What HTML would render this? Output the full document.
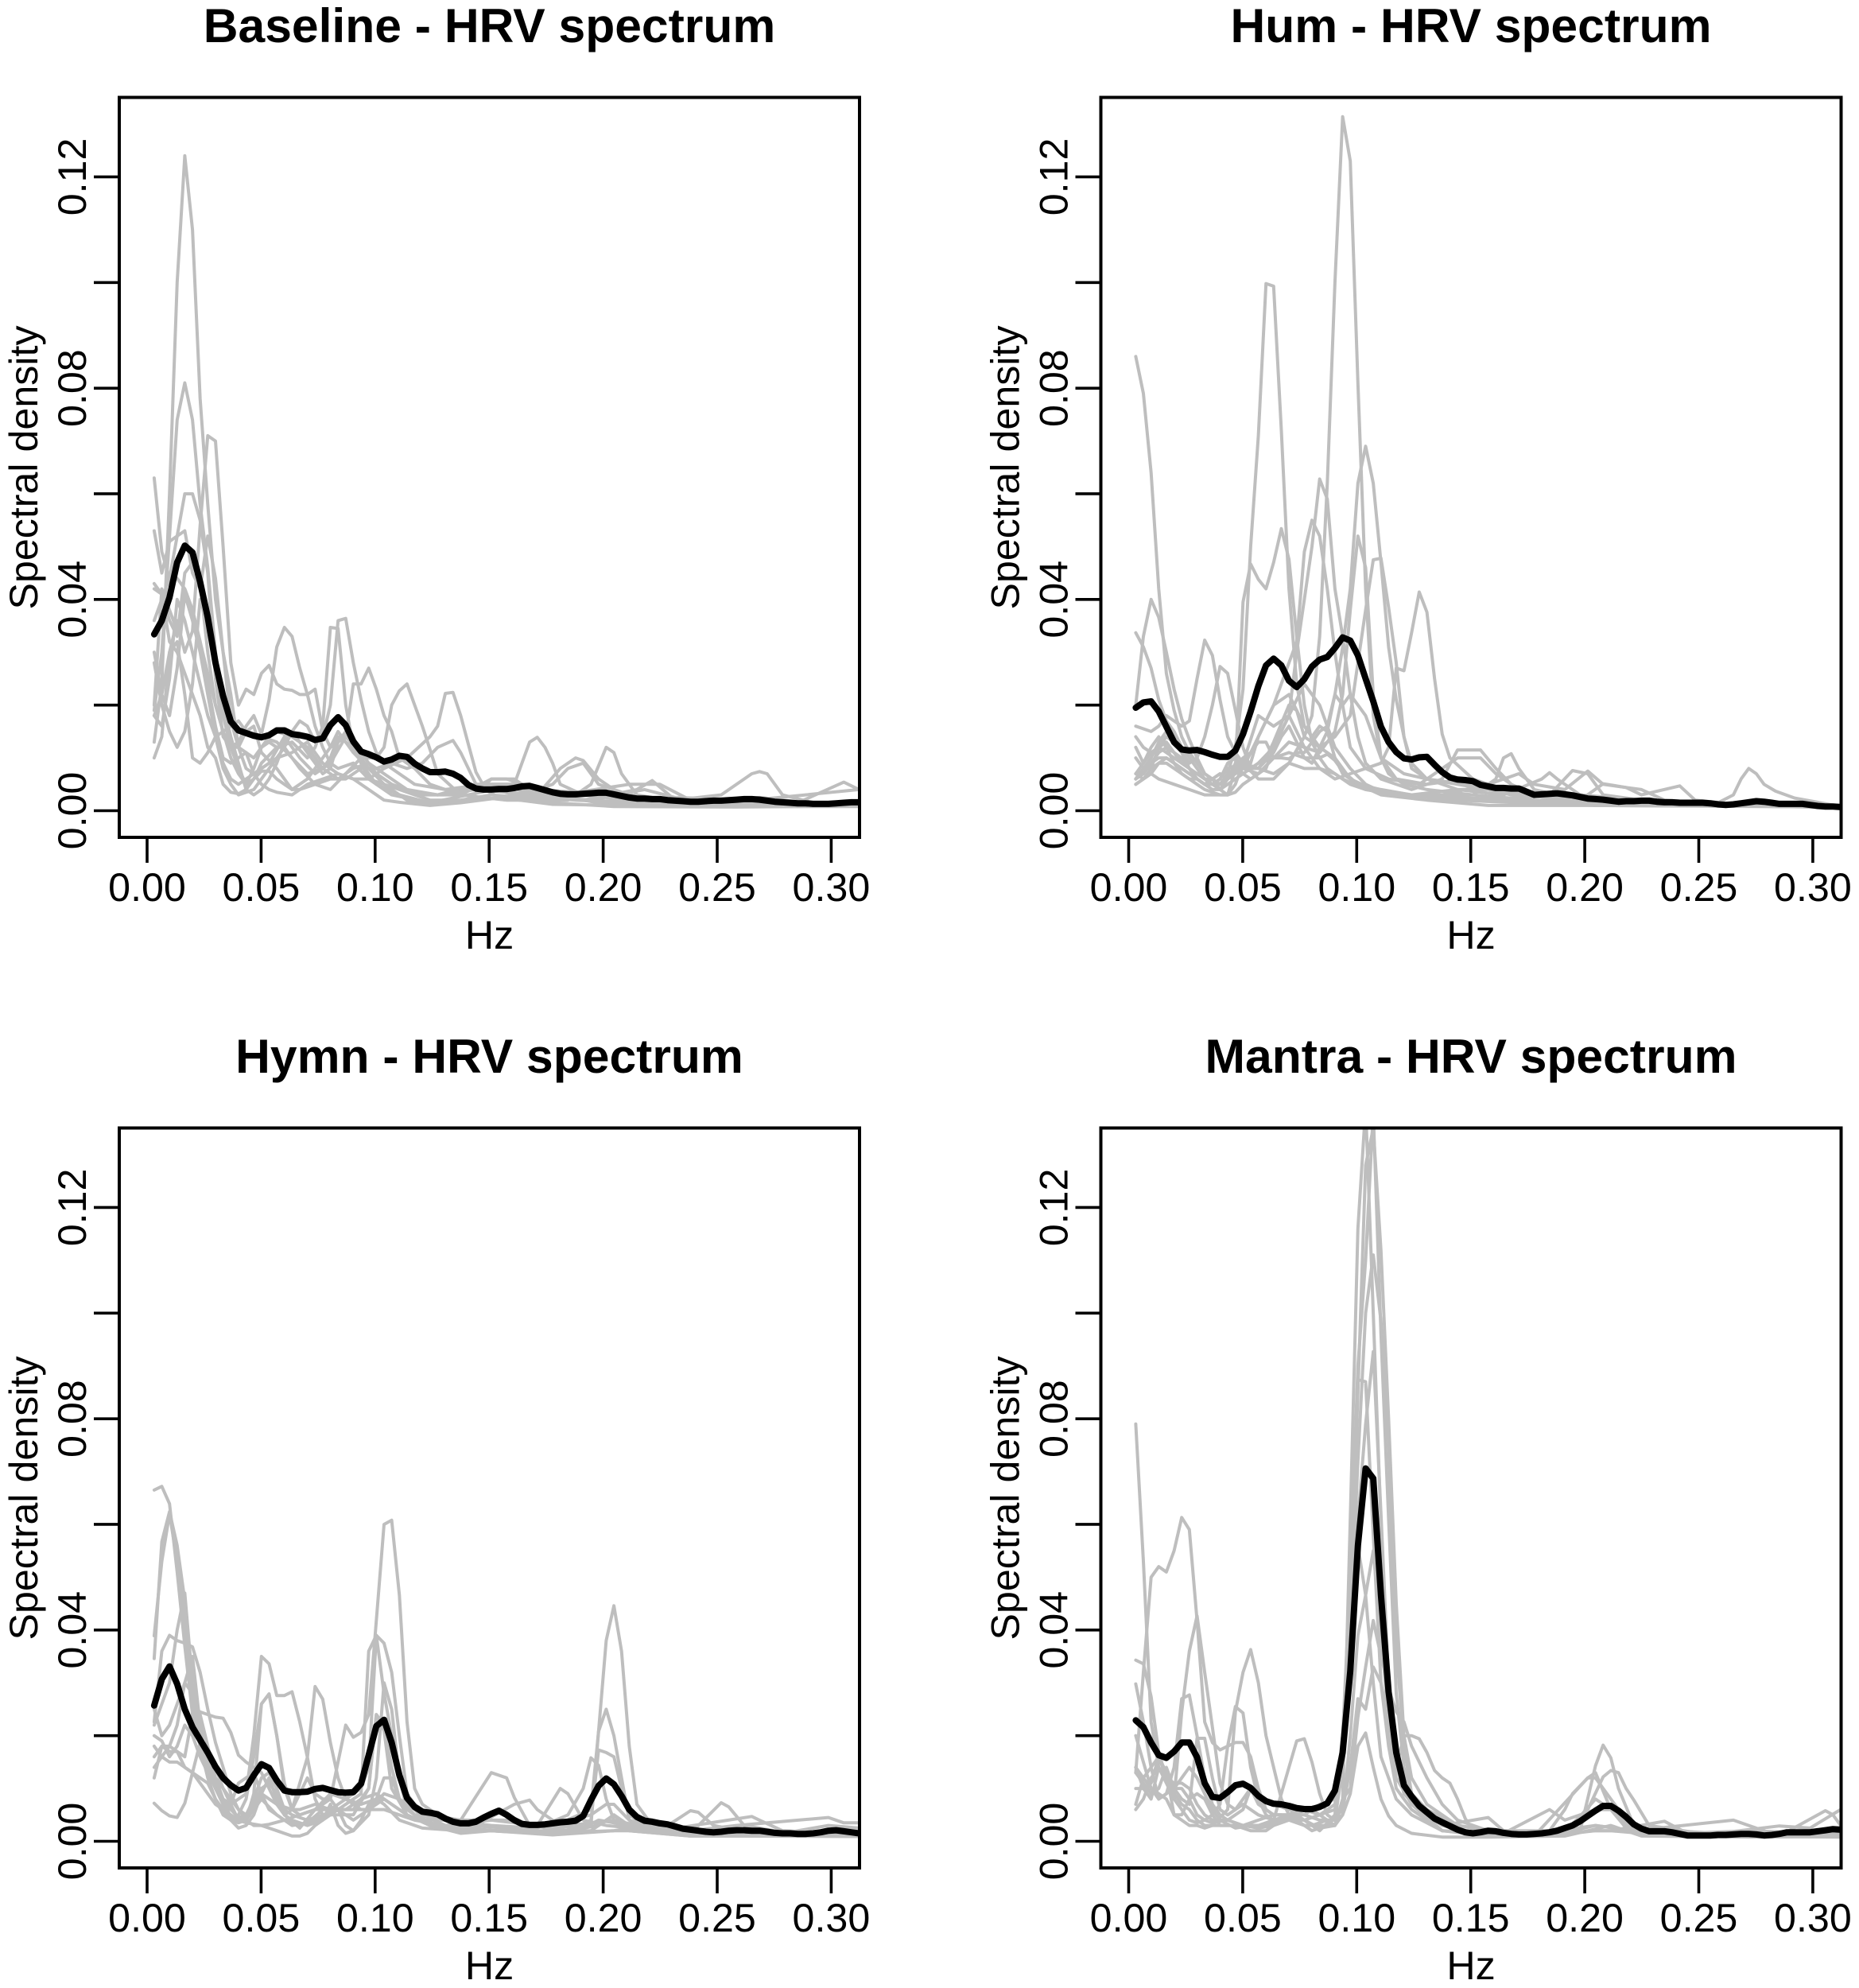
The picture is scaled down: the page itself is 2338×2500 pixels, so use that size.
<!DOCTYPE html>
<html lang="en">
<head>
<meta charset="utf-8">
<title>HRV spectrum panels</title>
<style>
html,body{margin:0;padding:0;background:#fff;}
svg{display:block;font-family:"Liberation Sans",Arial,sans-serif;fill:#000;}
.title{font-size:60.6px;font-weight:bold;text-anchor:middle;}
.lab{font-size:50.2px;text-anchor:middle;}
</style>
</head>
<body>
<svg id="chart" width="2338" height="2500" viewBox="0 0 2338 2500" xmlns="http://www.w3.org/2000/svg">
<defs>
<clipPath id="clip-0"><rect x="150" y="122.5" width="931" height="930.5"/></clipPath>
<clipPath id="clip-1"><rect x="1384.5" y="122.5" width="931" height="930.5"/></clipPath>
<clipPath id="clip-2"><rect x="150" y="1418.5" width="931" height="930.5"/></clipPath>
<clipPath id="clip-3"><rect x="1384.5" y="1418.5" width="931" height="930.5"/></clipPath>
</defs>
<rect x="0" y="0" width="2338" height="2500" fill="#fff"/>
<g id="panel-0">
<text class="title" x="615.5" y="53">Baseline - HRV spectrum</text>
<text class="lab" x="615.5" y="1193">Hz</text>
<text class="lab" transform="translate(47,588) rotate(-90)">Spectral density</text>
</g>
<g id="panel-1">
<text class="title" x="1850" y="53">Hum - HRV spectrum</text>
<text class="lab" x="1850" y="1193">Hz</text>
<text class="lab" transform="translate(1281.5,588) rotate(-90)">Spectral density</text>
</g>
<g id="panel-2">
<text class="title" x="615.5" y="1349">Hymn - HRV spectrum</text>
<text class="lab" x="615.5" y="2489">Hz</text>
<text class="lab" transform="translate(47,1884) rotate(-90)">Spectral density</text>
</g>
<g id="panel-3">
<text class="title" x="1850" y="1349">Mantra - HRV spectrum</text>
<text class="lab" x="1850" y="2489">Hz</text>
<text class="lab" transform="translate(1281.5,1884) rotate(-90)">Spectral density</text>
</g>
</svg>
<script>
// Spectra are in units of 0.001; sample index k maps to Hz as firstHz + k * stepHz.
const firstHz = 0.0031;
const stepHz = 0.00336;
const densityUnit = 0.001;
const xTicks = [0, 0.05, 0.1, 0.15, 0.2, 0.25, 0.3];
const xTickLabels = ["0.00", "0.05", "0.10", "0.15", "0.20", "0.25", "0.30"];
const yTicks = [0, 0.02, 0.04, 0.06, 0.08, 0.1, 0.12];
const yTickLabels = ["0.00", "", "0.04", "", "0.08", "", "0.12"];

// Group mean spectra, one value per sample index.
const baselineMean = [33.4,36,40.4,47,50.2,48.9,43.3,36.6,28,21.7,16.9,15.2,14.7,14.2,13.9,14.3,15.2,15.2,14.5,14.3,14,13.4,13.7,16.2,17.7,16.2,13.1,11.2,10.7,10.1,9.3,9.7,10.4,10.2,8.9,8,7.3,7.3,7.4,7,6.2,4.9,4.2,4,4,4.1,4.1,4.3,4.6,4.7,4.3,3.9,3.5,3.2,3.1,3.1,3.2,3.3,3.4,3.4,3.1,2.8,2.5,2.3,2.3,2.2,2.2,2,1.9,1.8,1.7,1.7,1.8,1.9,1.9,2,2.1,2.2,2.2,2.1,1.9,1.7,1.6,1.5,1.4,1.4,1.3,1.3,1.3,1.4,1.5,1.6,1.6];
const humMean = [19.5,20.5,20.7,18.8,15.9,13,11.6,11.4,11.5,11.1,10.6,10.2,10.2,11.4,14.5,18.8,23.6,27.5,28.8,27.5,24.6,23.4,24.9,27.3,28.6,29.1,30.8,32.8,32.2,29.4,25,20.7,15.9,13,11.1,9.9,9.7,10.1,10.2,8.7,7.3,6.3,5.9,5.8,5.6,4.9,4.6,4.3,4.3,4.2,4.2,3.6,3,3.1,3.2,3.3,3.1,2.9,2.6,2.3,2.2,2.1,1.9,1.7,1.8,1.8,1.9,1.9,1.7,1.6,1.6,1.5,1.5,1.5,1.5,1.4,1.2,1.1,1.2,1.4,1.6,1.8,1.7,1.5,1.3,1.3,1.3,1.3,1.1,0.9,0.8,0.8,0.7];
const hymnMean = [25.7,30.7,33.1,29.8,25,21.6,19.2,16.8,14.1,12,10.6,9.6,10.1,12.5,14.6,13.9,11.5,9.6,9.3,9.3,9.4,9.9,10.1,9.7,9.3,9.2,9.3,10.9,16.3,21.8,23,18.7,12.5,8.2,6.5,5.6,5.4,5.1,4.3,3.7,3.4,3.4,3.7,4.5,5.2,5.8,5,4,3.3,3.1,3.1,3.2,3.4,3.6,3.7,3.9,4.8,7.8,10.5,11.9,10.8,8.6,6,4.6,3.9,3.7,3.4,3.2,2.8,2.4,2.2,2,1.8,1.7,1.8,2,2.1,2.1,2,2,1.8,1.6,1.5,1.5,1.4,1.4,1.5,1.7,2,2.1,1.9,1.7,1.5];
const mantraMean = [22.9,21.6,18.7,16.3,15.8,17,18.7,18.7,15.9,11,8.4,8.2,9.3,10.6,10.9,10.1,8.6,7.6,7.1,7,6.7,6.3,6.1,6.1,6.5,7.2,9.6,16.8,32.2,56,70.6,68.7,46.6,28.3,16.8,10.6,8.5,6.7,5.5,4.3,3.6,2.9,2.2,1.7,1.5,1.7,2,1.9,1.6,1.4,1.3,1.3,1.4,1.5,1.7,2,2.5,3,3.8,4.8,5.8,6.7,6.7,5.8,4.6,3.2,2.4,1.9,1.9,1.9,1.7,1.4,1.1,1.1,1.1,1.1,1.2,1.2,1.3,1.4,1.4,1.3,1.1,1.2,1.4,1.7,1.7,1.7,1.7,1.9,2.1,2.3,2.2];

// Individual subject spectra as [sample index, density] vertices.
const baselineSubjects = [
[[0,13],[1,24],[2,60],[3,100],[4,124],[5,110],[6,78],[7,58],[8,40],[9,30],[10,22],[11,12],[12,8],[13,7],[15,9],[17,14],[19,10],[21,7],[23,9],[25,14],[27,11],[29,7],[32,4],[36,2],[40,2],[44,3],[48,2.5],[56,2],[66,1.5],[80,1],[92,1.2]],
[[0,19],[1,30],[2,52],[3,74],[4,81],[5,74],[6,58],[7,46],[8,30],[9,20],[10,14],[11,9],[12,4],[13,3],[14,4],[15,6],[16,9],[17,13],[18,15],[19,13],[20,11],[21,9],[22,7],[23,8],[24,13],[25,15],[26,13],[27,9],[29,5],[32,3],[36,1.5],[41,2],[44,6],[46,6],[50,4],[55,3.5],[62,2],[72,1.5],[79,2.5],[85,1.5],[92,1.6]],
[[0,18],[1,22],[2,30],[3,36],[4,30],[5,34],[6,54],[7,71],[8,70],[9,50],[10,28],[11,20],[12,23],[13,22],[14,26],[15,27.5],[16,24],[17,23],[18,22.8],[19,22],[20,22],[21,23],[22,15],[23,12],[24,15],[26,11],[28,8],[31,5],[35,3],[40,3],[44,6],[47,6],[50,3],[56,2],[63,4],[65,5.7],[68,2],[78,2],[85,3],[92,4]],
[[0,36],[1,40],[2,44],[3,52],[4,60],[5,60],[6,55],[7,45],[8,25],[9,14],[10,12],[11,13],[12,16],[13,18],[14,14.5],[15,21],[16,31],[17,34.7],[18,33],[19,27],[20,22],[21,16],[22,12],[23,9],[24,8],[26,9],[28,6],[32,4],[37,3],[42,4],[46,5],[49,3],[57,2],[64,4],[68,2.5],[78,2],[84,1.5],[90,5.4],[92,4]],
[[0,63],[1,49],[2,44],[3,44],[4,42],[5,38],[6,32],[7,26],[8,20],[9,15],[10,10],[11,7],[12,5],[13,6],[14,9],[16,12],[18,13],[20,10],[21,12],[22,16],[23,34.7],[24,34.5],[25,20],[26,12],[28,6],[31,3],[36,1.5],[42,2],[48,3],[52,5],[54,8],[56,9],[58,5],[62,3],[68,2],[74,3],[78,7],[79,7.4],[80,7],[82,3],[86,1.5],[92,1.5]],
[[0,53],[1,45],[2,51],[3,52],[4,53],[5,45],[6,42],[7,52],[8,44],[9,30],[10,17],[11,12],[12,11],[13,10],[14,12],[15,13],[16,12],[17,12],[18,15],[19,17],[20,16],[21,13],[22,14],[23,20],[24,36],[25,36.4],[26,28],[27,21],[28,15],[29,11],[30,9],[34,5],[38,4],[43,5],[47,5],[48,9],[49,13],[50,13.9],[51,12],[52,9],[53,5],[56,3],[62,2],[72,1.2],[92,1.2]],
[[0,43],[1,41],[2,36],[3,33],[4,45],[5,47],[6,43],[7,30],[8,20],[9,15],[10,12],[11,12],[12,15],[13,16],[14,11],[16,8],[18,4],[20,6],[22,10],[23,12],[25,14],[26,24],[27,24],[28,27],[29,23],[30,18],[31,15],[32,10],[34,8],[36,5],[38,4],[42,4],[50,3],[53,8],[55,10],[56,9.5],[58,6],[60,4],[64,2],[74,1],[92,1.4]],
[[0,30],[1,22],[2,18],[3,27],[4,41],[5,36],[6,30],[7,22],[8,14],[9,8],[10,5],[11,3],[12,3.5],[13,4],[14,6],[15,8],[17,12],[19,8],[21,5],[23,4],[25,7],[27,10],[29,10],[30,12],[31,20],[32,22.7],[33,24],[34,20],[35,16],[36,11.6],[37,7],[40,3],[46,2],[54,2],[57,5],[59,12],[60,11],[61,7],[63,3],[70,1.2],[92,1]],
[[0,28],[1,20],[2,15],[3,12],[4,15],[5,24],[6,40],[7,35],[8,30],[9,18],[10,12],[11,8],[12,5],[13,8],[14,12],[15,14],[16,15],[18,14],[20,12],[22,8],[24,6],[26,8],[28,9],[30,7],[33,4],[37,3],[42,5],[47,5],[53,3],[62,5],[66,5],[70,2],[80,1.3],[92,1.3]],
[[0,10],[1,14],[2,30],[3,32],[4,22],[5,10],[6,9],[7,11],[8,14],[9,15],[10,16],[11,17],[12,15],[13,14],[14,14],[16,13],[18,10],[20,7],[22,8],[23,10],[24,14],[26,12],[28,8],[30,5],[33,2],[36,1.5],[41,3],[46,4.5],[52,3],[58,1.5],[70,1],[92,1.1]],
[[0,18],[1,16],[2,25],[3,40],[4,36],[5,30],[6,24],[7,18],[8,14],[9,9],[10,6],[11,5],[12,6],[14,8],[16,10],[18,11],[20,13],[22,9],[24,7],[26,6],[28,6],[30,8],[33,10],[36,14],[37,16],[38,22.2],[39,22.4],[40,18],[41,12.6],[42,7.3],[43,4.7],[47,3],[55,2],[66,1.2],[92,0.9]],
[[0,42],[1,41],[2,32],[3,30],[4,26],[5,22],[6,18],[7,12],[8,10],[9,5],[10,3.5],[11,3.2],[12,4],[13,6],[14,7.5],[15,7.5],[16,6],[17,5],[18,4],[19,4],[21,5],[23,6],[25,6],[27,8],[29,8],[31,9],[33,8],[35,9],[37,12],[39,13.3],[40,11],[42,5],[45,2.5],[52,1.2],[70,0.8],[92,0.8]],
[[0,20],[1,42],[2,38],[3,34],[4,42],[5,38],[6,32],[7,24],[8,16],[9,10],[10,9],[11,10],[12,11],[13,7],[14,5],[15,4],[16,3.5],[18,3],[20,5],[22,6],[24,7],[26,6],[28,4],[30,2],[32,1.6],[36,1],[40,1.5],[48,3],[52,1.5],[60,0.8],[76,0.7],[92,0.9]]
];
const humSubjects = [
[[0,86],[1,79],[2,64],[3,42],[4,26],[5,19],[6,14],[7,11],[8,9],[9,7],[10,6],[11,5],[12,6],[13,9],[14,7],[15,6],[16,7],[17,8],[18,12],[20,18],[22,24],[24,20],[26,12],[28,8],[30,5],[33,3],[38,3],[44,3],[52,2],[62,1.5],[75,1],[92,0.6]],
[[0,10],[1,8],[2,9],[3,11],[4,12],[5,11],[6,9],[7,8],[8,7],[9,6],[10,5],[11,5],[12,7],[13,12],[14,23],[15,50],[16,71],[17,99.8],[18,99.3],[19,72],[20,42],[21,24],[22,16],[23,14],[24,16],[25,15],[26,10],[27,7],[29,5],[32,4],[36,3],[42,2.5],[50,2],[60,1.5],[92,0.6]],
[[0,7],[1,9],[2,12],[3,14],[4,12],[5,9],[6,7],[7,6],[8,6],[9,5],[10,5],[11,4],[12,6],[14,9],[16,8],[18,7],[20,9],[22,14],[23,18],[24,33],[25,62],[26,100],[27,131.4],[28,123],[29,81],[30,42],[31,18],[32,10],[33,7],[35,5],[38,4],[44,3],[47,6],[48,10],[49,10.8],[50,8],[52,4],[58,2],[70,1],[92,0.7]],
[[0,6],[1,8],[2,10],[3,13],[4,15],[5,13],[6,11],[7,8],[8,6],[9,5],[10,5],[11,6],[12,8],[14,9],[16,8],[18,11],[19,14],[20,16],[21,13],[22,10],[23,9],[24,12],[25,15],[26,22],[27,31],[28,42],[29,62],[30,69],[31,62],[32,47],[33,31],[34,21],[35,14],[36,9],[38,6],[42,4],[48,3],[53,6],[54,7.2],[55,6],[58,3],[70,1.5],[92,0.7]],
[[0,6],[1,7],[2,9],[3,10],[4,10],[5,9],[6,8],[7,7],[8,6],[9,5],[10,4],[11,4],[12,5],[14,7],[16,9],[18,12],[20,18],[21,30],[22,40],[23,50],[24,62.8],[25,59],[26,42],[27,33],[28,22],[29,14],[30,9],[32,6],[36,4],[40,6],[42,11.5],[45,11.5],[47,8],[49,5],[52,3],[60,2],[72,1.2],[92,0.7]],
[[0,12],[1,9],[2,11],[3,12],[4,13],[5,11],[6,10],[7,8],[8,7],[9,6],[10,6],[11,7],[12,6],[14,8],[15,9],[16,14],[18,20],[20,28],[21,32],[22,49],[23,55],[24,52],[25,42],[26,30],[27,20],[28,12],[30,8],[33,6],[37,5],[42,10],[45,10],[47,7],[50,4],[54,3],[57,7.6],[59,7],[61,3],[70,1.2],[92,0.8]],
[[0,14],[1,12],[2,11],[3,12],[4,11],[5,10],[6,9],[7,8],[8,6],[9,5],[10,5],[11,6],[12,9],[13,10],[14,8],[16,7],[18,10],[20,13],[22,12],[24,11],[26,15],[27,22],[28,38],[29,52],[30,46],[31,22],[32,10],[34,6],[38,5],[43,6],[46,5],[50,7],[52,5],[56,4],[59,7.5],[61,5],[64,4.4],[66,4],[69,2],[80,1],[92,0.9]],
[[0,7],[1,6],[2,7],[3,9],[4,10],[5,9],[6,8],[7,7],[8,6],[9,5],[10,6],[11,7],[12,6],[14,8],[16,14],[18,20],[20,22],[22,16],[24,12],[26,14],[28,18],[29,28],[30,38],[31,47.5],[32,47.8],[33,38.5],[34,28],[35,14],[36,8],[38,6],[42,5],[46,4],[50,3],[58,2],[61,5.1],[64,4.4],[66,3],[71,4.7],[73,2],[80,1],[92,0.6]],
[[0,33.7],[1,31],[2,27],[3,21],[4,17],[5,15],[6,12],[7,10],[8,8],[9,6],[10,5],[11,5],[12,6],[13,8],[14,10],[15,11],[16,13],[17,13],[18,10],[19,10],[20,9.8],[21,11],[22,11],[24,15],[25,16],[26,22],[27,20],[28,22],[30,18],[32,10],[35,7],[38,6],[43,5],[48,4],[55,2],[62,2],[70,1.5],[92,1]],
[[0,20],[1,33],[2,40],[3,36.6],[4,30],[5,23],[6,17.4],[7,13.5],[8,10],[9,7],[10,6],[11,4],[12,3],[13,5],[14,9],[16,18],[18,16],[20,18],[22,12],[24,8],[26,7],[28,5],[30,4],[34,3],[40,3],[46,5],[52,2],[62,1.2],[92,0.8]],
[[0,16],[1,15.5],[2,15],[3,16],[4,18],[5,17],[6,16],[7,17],[8,25],[9,32.3],[10,29.4],[11,21],[12,14],[13,11],[14,9],[16,6],[18,6],[20,9],[22,8],[24,8],[26,6],[28,7],[30,8],[32,9],[33,12],[34,27],[35,26.5],[36,33.7],[37,41.4],[38,37.6],[39,25],[40,14.5],[41,10],[44,6],[48,4],[56,2.5],[66,1.5],[92,1]],
[[0,6],[1,8],[2,8],[3,12],[4,14],[5,13],[6,11],[7,9],[8,10],[9,14],[10,20],[11,27.3],[12,26],[13,19],[14,12],[15,8],[16,8],[17,10],[18,13],[20,20],[21,19],[22,14],[24,12],[26,10],[28,6],[31,4],[36,3],[42,4],[46,4],[52,2],[60,1],[92,0.7]],
[[0,5],[1,6],[2,8],[3,9],[4,9],[5,8],[6,7],[7,6],[8,5],[9,4],[10,3.5],[11,3],[12,3],[13,8],[14,39.5],[15,46.7],[16,43.8],[17,42],[18,47],[19,53.4],[20,47.6],[21,33],[22,20],[23,13],[24,10],[25,8],[27,6],[30,4],[35,3],[42,2],[50,1.5],[60,1],[92,0.8]],
[[0,5],[1,6],[2,7],[3,6],[5,5],[7,4],[9,3],[11,3],[12,3],[13,3.5],[14,5],[16,7],[18,10],[20,11],[22,10],[24,10],[25,10.7],[26,9.5],[27,7.5],[29,5],[32,3],[38,2],[46,1],[60,1],[70,1],[76,1.5],[78,3],[79,6],[80,8],[81,7],[82,5],[83.5,3.7],[86,2.4],[92,0.8]]
];
const hymnSubjects = [
[[0,66.5],[1,67.2],[2,63.9],[3,51],[4,37],[5,24],[6,18],[7,14],[8,12],[9,10],[10,8],[11,6],[12,5],[13,8],[14,12],[15,13],[16,10],[17,6],[18,5],[20,4],[22,5],[24,6],[26,6],[28,10],[29,24],[30,22],[31,14],[32,8],[33,6],[35,4],[38,4],[42,4],[46,4],[50,3],[56,2.5],[58,4],[60,3.5],[64,2],[75,1],[92,1]],
[[0,34.6],[1,56.7],[2,62.4],[3,56],[4,45.6],[5,29],[6,20],[7,15],[8,11],[9,8],[10,6],[11,4.5],[12,5],[13,7],[14,10],[15,11],[16,9],[17,5],[18,4],[20,3],[22,4],[24,6],[26,8],[27,9],[28,36],[29,39],[30,28],[31,20],[32,12],[33,7],[35,5],[38,3],[44,2],[50,1.5],[60,2],[62,2],[70,1],[92,1]],
[[0,38.9],[1,53],[2,62],[3,53],[4,41.8],[5,27],[6,19],[7,14],[8,10],[9,7],[10,4],[11,3.5],[12,4],[13,9],[14,26],[15,27.9],[16,20],[17,11],[18,6],[19,5],[21,6],[23,6],[25,8],[27,10],[28,14],[29,39],[30,37.5],[31,32],[32,20],[33,9],[34,7],[36,5],[40,4],[44,13],[46,12],[47,8.3],[49,3],[54,2],[57,2],[60,5],[62,3],[70,1],[92,1]],
[[0,22.6],[1,36],[2,39],[3,38],[4,37.5],[5,36.8],[6,32],[7,25],[8,18.7],[9,14],[10,9],[11,6],[12,4],[13,3],[14,3],[15,3.2],[17,4],[19,5],[21,6],[23,9],[25,8],[27,7],[29,8],[30,12],[31,12],[32,8],[34,5],[38,4],[44,3],[50,2.5],[54,5],[56,10],[57,15.8],[58,14.4],[59,8],[60,4],[62,2],[70,1],[92,1.2]],
[[0,7.2],[1,5.8],[2,4.8],[3,4.5],[4,7.2],[5,13],[6,18.7],[7,17],[8,14],[9,10],[10,7],[11,4],[12,3.5],[14,3],[16,2],[18,1],[19,1],[20,1.5],[21,3],[22,4],[23,7],[24,3],[25,1.5],[26,2],[27,4],[28,7],[29,8],[30,7],[32,4],[35,2.5],[40,2],[46,2],[52,1.5],[58,3],[60,5],[62,2],[72,1],[92,1]],
[[0,12],[1,18],[2,18],[3,17],[4,16],[5,24],[6,24.5],[7,24],[8,23.5],[9,23.3],[10,20.6],[11,16.3],[12,15],[13,14],[14,13],[15,10],[16,7],[17,5],[18,6],[19,6],[21,7],[23,6],[25,6],[27,8],[29,9],[31,7],[33,5],[36,3],[40,2],[46,2],[54,4],[57,5],[59,7],[60,7],[62,4],[66,2],[70,5.8],[71,5.5],[73,3],[78,1.5],[92,1.2]],
[[0,20],[1,19],[2,16],[3,18],[4,22],[5,20],[6,16],[7,13],[8,10],[9,7],[10,7],[11,8],[12,9],[13,20],[14,35],[15,33.6],[16,27.6],[17,27.6],[18,28.3],[19,22.6],[20,15.9],[21,8],[22,5],[23,5],[24,6],[26,6],[28,6],[30,8],[33,5],[36,3],[42,3],[47,7],[49,7.8],[50,6],[53,3],[58,3.5],[60,4],[63,3],[70,1.5],[74,7.3],[75,6.5],[77,3],[84,1.2],[92,1]],
[[0,18],[1,16],[2,15],[3,15],[4,14],[5,13],[6,12],[7,11],[8,8],[9,5],[10,4],[11,5],[12,8],[13,16],[14,26],[15,27.9],[16,20],[17,10],[18,6],[20,15.9],[21,29.3],[22,26.9],[23,18.7],[24,12],[25,8],[27,6],[30,6],[34,4],[38,3],[44,4],[50,3],[53,10],[54,9],[56,4],[59,3],[66,2],[78,4.7],[79,4],[82,2],[92,1.4]],
[[0,16],[1,18],[2,17],[3,17],[4,14],[5,13],[6,11],[7,9],[8,7],[9,6],[10,5],[11,4],[13,6],[14,9],[16,7],[18,6],[20,12],[21,9],[22,8],[23,8],[25,22],[26,19.7],[27,20.6],[28,24],[29,41.8],[30,60],[31,60.8],[32,46.6],[33,22.6],[34,10],[35,7],[37,5],[41,3],[46,2.5],[52,1.5],[57,3],[58,20.8],[59,38],[60,44.6],[61,36],[62,18],[63,7],[65,3],[72,1.2],[92,1]],
[[0,25],[1,20],[2,22],[3,26],[4,30],[5,35],[6,22],[7,14],[8,10],[9,8],[10,7],[11,11],[12,12],[13,13],[14,9],[15,6],[17,4],[19,3],[21,4],[23,5],[26,5],[28,10],[29,24],[30,21],[31,10],[33,5],[36,3],[40,2.5],[45,2],[54,2],[57,4],[58,17.3],[59,16.8],[60,16],[61,10],[62,5],[64,3],[70,2],[76,3],[88,4.5],[90,3.5],[92,3.5]],
[[0,14],[1,16],[2,18],[3,22],[4,30],[5,28],[6,24],[7,18],[8,12],[9,8],[10,4.5],[11,4],[12,4],[13,6],[14,8],[16,5],[18,3],[20,3.5],[22,6],[24,6],[26,4],[28,6],[30,9],[32,8],[34,6],[36,3],[40,1.5],[44,2],[50,1.5],[57,6],[58,20.8],[59,25],[60,20],[61,12],[62,4],[64,2],[70,1],[80,1],[88,3],[92,2.5]],
[[0,22],[1,26],[2,30],[3,40],[4,47],[5,30],[6,18],[7,12],[8,8],[9,6],[10,4],[11,2.5],[12,3],[13,5],[14,9],[15,12],[16,8],[17,5],[19,2.5],[21,6],[23,8],[24,6],[25,3],[26,2],[28,5],[29,12],[30,30],[31,25],[32,12],[33,6],[35,4],[38,2.5],[44,2],[52,1.2],[60,2],[62,2.5],[72,1],[92,0.9]]
];
const mantraSubjects = [
[[0,79],[1,53],[2,22.6],[3,14],[4,12],[5,9],[6,7],[7,6],[8,4],[9,3],[10,3],[12,3],[14,3],[16,4],[18,5],[20,5],[22,4],[24,2.5],[26,3],[27,8],[28,61],[29,116],[30,139],[31,100],[32,60],[33,30],[34,15],[35,9],[37,6],[40,3],[44,1.5],[54,1],[60,3],[70,1],[92,0.8]],
[[0,13],[1,32],[2,50],[3,52],[4,51],[5,55],[6,61.3],[7,59],[8,41.8],[9,22.6],[10,18.7],[11,17.3],[12,18],[13,25.5],[14,24.3],[15,14],[16,8],[17,5],[18,4],[20,5],[22,4],[24,2],[26,5],[27,20],[28,50],[29,90],[30,110],[31,138],[32,96],[33,61],[34,28],[35,14],[36,9],[38,6],[42,3],[50,1],[60,2],[62,2],[70,1],[92,1]],
[[0,7],[1,12],[2,14],[3,16],[4,12],[5,8],[6,24.5],[7,36],[8,42.7],[9,32],[10,21.6],[11,11],[12,7],[13,6],[14,8],[15,10],[16,8],[18,7],[20,6],[22,5],[24,4],[26,4],[27,15],[28,40],[29,87.4],[30,87],[31,58],[32,30],[33,18],[34,10],[36,6],[40,2],[46,1],[54,1.5],[58,2],[60,14.3],[61,18.2],[62,15.8],[63,10],[65,3],[72,1],[92,1]],
[[0,14],[1,12],[2,10],[3,9],[4,8],[5,5],[6,4],[7,3],[8,3],[9,2.5],[10,3],[12,6],[13,24.5],[14,32],[15,36.3],[16,30],[17,20],[18,14],[19,8],[20,5],[22,6],[24,5],[26,6],[27,18],[28,45],[29,85],[30,128],[31,135],[32,111.8],[33,80],[34,45],[35,20],[36,12],[38,7],[42,3],[47,2],[52,1],[59,12],[60,12],[62,8],[65,2],[80,1],[92,1.2]],
[[0,34.3],[1,33.6],[2,27.4],[3,16.8],[4,12],[5,11],[6,11],[7,10],[8,7],[9,5],[10,4],[12,4],[14,3],[16,3],[18,4],[20,4],[22,4],[24,5],[26,7],[27,20],[28,40],[29,72],[30,100],[31,111],[32,98.5],[33,75],[34,37],[35,18],[36,9],[38,5],[42,2],[48,1],[56,2],[59,6],[61,12.2],[62,13.4],[63,13],[64,10],[65,7.8],[67,3],[76,1],[92,1.2]],
[[0,29.8],[1,22.6],[2,14],[3,8],[4,9],[5,10],[6,12],[7,14],[8,12],[9,9],[10,6],[11,4],[13,2.5],[15,3],[17,3],[19,4],[21,5],[23,3],[25,4],[26,4],[27,14],[28,35],[29,61],[30,79],[31,92.7],[32,62],[33,30],[34,15],[36,7],[40,2],[48,1],[56,1.5],[60,8],[62,6],[65,2],[78,4],[80,3],[84,1],[90,5.8],[91,5],[92,3]],
[[0,20],[1,15],[2,10],[3,8],[4,9],[5,14],[6,27],[7,27.7],[8,20],[9,12],[10,7],[11,5],[12,4],[14,6],[15,10],[16,7],[18,5],[20,5],[22,5],[24,7],[26,8],[27,14],[28,32],[29,56],[30,46.6],[31,55],[32,40],[33,22],[34,12],[36,7],[40,3],[46,4.5],[48,2],[54,2],[56,6],[57,9],[59,12],[60,13],[62,6],[66,2],[74,1],[92,2]],
[[0,13],[1,11],[2,9],[3,10],[4,14],[5,10],[6,8],[7,7],[8,19.5],[9,19.5],[10,12],[11,6],[12,5],[14,7],[16,5],[18,4],[20,14],[21,19],[22,19.4],[23,15],[24,9],[25,5],[26,4],[27,5],[28,20],[29,39],[30,46.6],[31,30],[32,16],[34,8],[36,5],[40,2],[48,1.5],[54,6],[56,4],[60,6],[62,6],[64,2.5],[76,1.5],[84,2.9],[88,2.5],[92,6]],
[[0,6],[1,8],[2,12],[3,14],[4,11],[5,8],[6,6],[7,4],[8,3.5],[9,4],[10,5],[11,7],[12,18],[13,18.7],[14,18.7],[15,16],[16,10],[17,6],[18,5],[19,5],[21,4],[23,2],[25,3],[27,6],[28,14],[29,27],[30,25],[31,33],[32,30],[33,22],[34,14],[35,20],[36,20],[37,19.4],[38,16.8],[39,13.4],[40,12],[41,11],[42,8],[43,4.3],[44,2],[50,1],[60,3],[70,1],[92,1]],
[[0,10],[1,10],[2,8],[3,14],[4,12],[5,10],[6,10],[7,8],[8,5],[9,4],[10,3.5],[12,4],[14,3],[16,2.5],[18,3],[20,4],[22,3],[24,3],[26,3],[27,8],[28,10],[29,23.5],[30,33],[31,41.8],[32,35],[33,29],[34,24.5],[35,22.6],[36,18],[38,12],[40,7],[42,4],[46,2],[54,1],[60,2],[62,2],[69,3.8],[72,1.5],[80,2],[92,1.4]],
[[0,14],[1,10],[2,11],[3,16],[4,13],[5,5],[6,5],[7,8],[8,9],[9,8],[10,5],[11,3],[13,3],[15,2],[17,2],[19,4],[21,6],[23,6],[25,4],[26,3],[27,5],[28,9],[29,18],[30,20.5],[31,14],[32,8],[33,4.8],[34,3],[36,1.5],[40,0.8],[46,0.8],[56,1],[62,3],[66,1],[80,0.8],[92,0.9]]
];
const panelTitles = ["baseline", "hum", "hymn", "mantra"];
const panelMeans = [baselineMean, humMean, hymnMean, mantraMean];
const panelSubjects = [baselineSubjects, humSubjects, hymnSubjects, mantraSubjects];

const SVGNS = "http://www.w3.org/2000/svg";
const frameWidth = 931, frameHeight = 930.5;
const tickLength = 32;

function makeEl(parent, tag, attrs) {
  const el = document.createElementNS(SVGNS, tag);
  for (const key in attrs) el.setAttribute(key, attrs[key]);
  parent.appendChild(el);
  return el;
}
function axisX(left) {
  return function (hz) { return left + 35 + 2868 * hz; };
}
function axisY(top) {
  return function (density) { return top + 897 - 6642 * density; };
}
function pointsFromMean(values, x, y) {
  return values.map(function (v, k) {
    return x(firstHz + k * stepHz).toFixed(1) + "," + y(v * densityUnit).toFixed(1);
  }).join(" ");
}
function pointsFromVertices(vertices, x, y) {
  return vertices.map(function (p) {
    return x(firstHz + p[0] * stepHz).toFixed(1) + "," + y(p[1] * densityUnit).toFixed(1);
  }).join(" ");
}

panelTitles.forEach(function (panelName, i) {
  const left = i % 2 === 0 ? 150 : 1384.5;
  const top = i < 2 ? 122.5 : 1418.5;
  const x = axisX(left);
  const y = axisY(top);
  const g = document.getElementById("panel-" + i);

  const lines = makeEl(g, "g", { "clip-path": "url(#clip-" + i + ")" });
  
  

  panelSubjects[i].forEach(function (vertices) {
    const subject = makeEl(lines, "polyline", {
      points: pointsFromVertices(vertices, x, y),
      fill: "none", stroke: "#bebebe", "stroke-width": 4, "stroke-linejoin": "round", "stroke-linecap": "round"
    });
    
    
  });

  const mean = makeEl(lines, "polyline", {
    points: pointsFromMean(panelMeans[i], x, y),
    fill: "none", stroke: "#000", "stroke-width": 8, "stroke-linejoin": "round", "stroke-linecap": "round"
  });
  
  

  const box = makeEl(g, "rect", {
    x: left, y: top, width: frameWidth, height: frameHeight,
    fill: "none", stroke: "#000", "stroke-width": 4
  });
  
  

  xTicks.forEach(function (tick, t) {
    const px = x(tick);
    const mark = makeEl(g, "line", {
      x1: px, x2: px, y1: top + frameHeight, y2: top + frameHeight + tickLength,
      stroke: "#000", "stroke-width": 3.6
    });
    
    
    const label = makeEl(g, "text", { x: px, y: top + 1010.5, "class": "lab" });
    label.textContent = xTickLabels[t];
    
    
  });

  yTicks.forEach(function (tick, t) {
    const py = y(tick);
    const mark = makeEl(g, "line", {
      x1: left - tickLength, x2: left, y1: py, y2: py,
      stroke: "#000", "stroke-width": 3.6
    });
    
    
    if (yTickLabels[t]) {
      const label = makeEl(g, "text", {
        "class": "lab",
        transform: "translate(" + (left - 42) + "," + py + ") rotate(-90)"
      });
      label.textContent = yTickLabels[t];
      
      
    }
  });
});
</script>
</body>
</html>
